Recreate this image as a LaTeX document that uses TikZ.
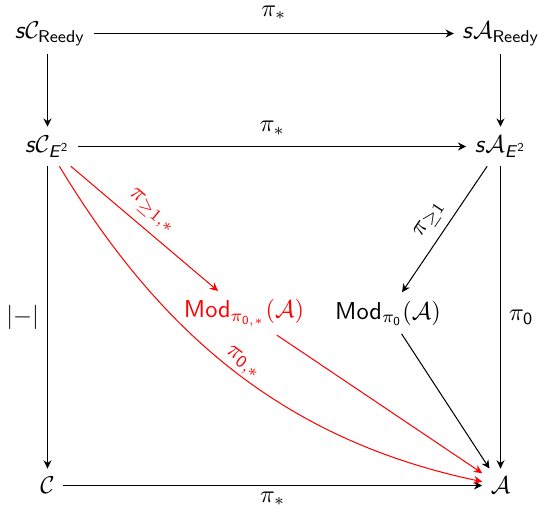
\documentclass[tikz,border=0pt]{standalone}
\usepackage{amsmath}
\usetikzlibrary{arrows.meta,calc}
\newcommand{\sfs}{\textsf{\textit{s}}}
\newcommand{\sfE}{\textsf{\textit{E}}^{\textsf{2}}}
\begin{document}
\begin{tikzpicture}[x=0.41pt,y=-0.41pt,
  obj/.style={inner sep=0.3333em},
  lbl/.style={inner sep=0.3333em},
  arr/.style={-{Stealth[length=3.4pt,width=3.3pt,inset=1.1pt]}, line width=0.42pt},
  rarr/.style={arr, red}]
\useasboundingbox (0,0) rectangle (538,507);
% objects
\node[obj] (sCR) at (50,33.5) {$\sfs\mathcal{C}_{\mathsf{Reedy}}$};
\node[obj] (sAR) at (501,33.5) {$\sfs\mathcal{A}_{\mathsf{Reedy}}$};
\node[obj] (sCE) at (47.5,146.5) {$\sfs\mathcal{C}_{\sfE}$};
\node[obj] (sAE) at (500.5,146.5) {$\sfs\mathcal{A}_{\sfE}$};
\node[obj, red] (ModS) at (244,313) {$\mathsf{Mod}_{\pi_{\mathsf{0},*}}(\mathcal{A})$};
\node[obj] (Mod0) at (388,313) {$\mathsf{Mod}_{\pi_{\mathsf{0}}}(\mathcal{A})$};
\node[obj] (C) at (47.5,485.5) {$\mathcal{C}$};
\node[obj] (A) at (500.5,485.5) {$\mathcal{A}$};
% horizontal arrows
\draw[arr] (sCR) -- node[lbl, above=2pt] (l1) {$\pi_*$} (sAR);
\draw[arr] (sCE) -- node[lbl, above=1pt] (l2) {$\pi_*$} (sAE);
\draw[arr] (C) -- node[lbl, below=-1pt] (l3) {$\pi_*$} (A);
% vertical arrows
\draw[arr] (sCR.south -| sCE) -- (sCE);
\draw[arr] (sAR.south -| sAE) -- (sAE);
\draw[arr] (sCE) -- node[lbl, left] (l4) {$|{-}|$} (C);
\draw[arr] (sAE) -- node[lbl, right] (l5) {$\pi_{\mathsf{0}}$} (A);
% diagonals
\draw[arr] (sAE) -- node[lbl, sloped, above, pos=0.5] (l6) {$\pi_{\geq 1}$} (Mod0);
\draw[arr] (Mod0) -- (A);
\draw[rarr] (sCE) -- node[lbl, sloped, above, pos=0.47] (l7) {$\pi_{\geq 1,*}$} (ModS);
\draw[rarr] (ModS) -- (A);
\draw[rarr] (sCE) .. controls ($(sCE)+(114,189)$) and ($(A)+(-214,-45)$) .. node[lbl, sloped, above=-2.5pt, pos=0.5] (l8) {$\pi_{\mathsf{0},*}$} (A);
\end{tikzpicture}
\end{document}
